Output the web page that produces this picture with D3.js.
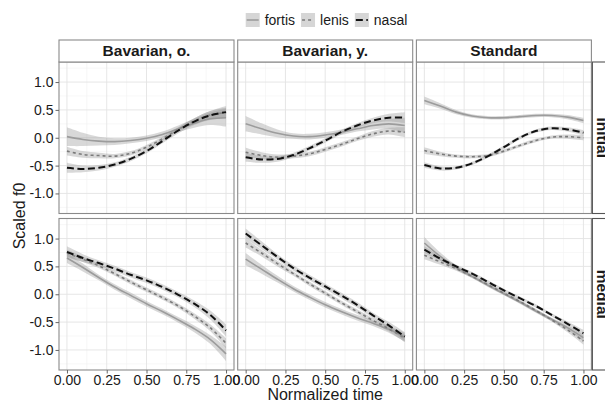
<!DOCTYPE html>
<html>
<head>
<meta charset="utf-8">
<script src="https://cdn.jsdelivr.net/npm/d3@7"></script>
<style>
  body { margin: 0; background: #fff; }
  text { font-family: "Liberation Sans", Arial, sans-serif; }
</style>
</head>
<body>
<script>
// facets and groups
var dialects = ['Bavarian, o.', 'Bavarian, y.', 'Standard'];
var positions = ['initial', 'medial'];
var groups = ['fortis', 'lenis', 'nasal'];

var timePoints = [0, 0.1, 0.2, 0.3, 0.4, 0.5, 0.6, 0.7, 0.8, 0.9, 1];
var xTicks = [0, 0.25, 0.5, 0.75, 1];
var xTickLabels = ['0.00', '0.25', '0.50', '0.75', '1.00'];
var yTicks = [-1, -0.5, 0, 0.5, 1];
var yTickLabels = ['-1.0', '-0.5', '0.0', '0.5', '1.0'];

// smoothed f0
var bavOInitialFortis = [0.02, -0.03, -0.06, -0.07, -0.05, -0.01, 0.06, 0.16, 0.26, 0.34, 0.36];
var bavOInitialLenis  = [-0.24, -0.30, -0.32, -0.33, -0.28, -0.17, -0.02, 0.15, 0.30, 0.41, 0.45];
var bavOInitialNasal  = [-0.54, -0.56, -0.54, -0.48, -0.38, -0.24, -0.06, 0.13, 0.29, 0.40, 0.46];

var bavYInitialFortis = [0.25, 0.16, 0.08, 0.03, 0.02, 0.05, 0.10, 0.16, 0.22, 0.25, 0.22];
var bavYInitialLenis  = [-0.26, -0.32, -0.35, -0.33, -0.29, -0.21, -0.12, -0.02, 0.07, 0.12, 0.10];
var bavYInitialNasal  = [-0.35, -0.39, -0.38, -0.31, -0.19, -0.05, 0.10, 0.22, 0.31, 0.36, 0.36];

var stdInitialFortis = [0.67, 0.57, 0.46, 0.39, 0.36, 0.36, 0.38, 0.40, 0.40, 0.37, 0.31];
var stdInitialLenis  = [-0.23, -0.29, -0.33, -0.34, -0.32, -0.24, -0.14, -0.05, 0.01, 0.02, 0.00];
var stdInitialNasal  = [-0.49, -0.55, -0.54, -0.46, -0.33, -0.17, 0.00, 0.12, 0.17, 0.15, 0.09];

var bavOMedialFortis = [0.65, 0.48, 0.30, 0.13, -0.02, -0.17, -0.31, -0.46, -0.62, -0.81, -1.07];
var bavOMedialLenis  = [0.74, 0.63, 0.51, 0.37, 0.22, 0.08, -0.06, -0.21, -0.39, -0.60, -0.88];
var bavOMedialNasal  = [0.76, 0.65, 0.56, 0.46, 0.35, 0.25, 0.13, -0.01, -0.17, -0.37, -0.65];

var bavYMedialFortis = [0.63, 0.45, 0.27, 0.10, -0.05, -0.19, -0.31, -0.42, -0.52, -0.63, -0.77];
var bavYMedialLenis  = [0.92, 0.74, 0.55, 0.37, 0.19, 0.02, -0.15, -0.31, -0.47, -0.62, -0.79];
var bavYMedialNasal  = [1.09, 0.88, 0.67, 0.47, 0.30, 0.14, -0.02, -0.19, -0.38, -0.56, -0.76];

var stdMedialFortis = [0.92, 0.68, 0.48, 0.32, 0.16, 0.01, -0.14, -0.30, -0.45, -0.60, -0.78];
var stdMedialLenis  = [0.70, 0.58, 0.46, 0.32, 0.17, 0.02, -0.13, -0.29, -0.46, -0.64, -0.84];
var stdMedialNasal  = [0.80, 0.64, 0.50, 0.37, 0.22, 0.07, -0.07, -0.21, -0.37, -0.53, -0.70];

// half width of the confidence bands
var bavOInitialFortisSe = [0.17, 0.12, 0.08, 0.06, 0.05, 0.05, 0.05, 0.06, 0.08, 0.11, 0.16];
var bavOInitialLenisSe  = [0.08, 0.06, 0.05, 0.04, 0.04, 0.04, 0.04, 0.04, 0.05, 0.07, 0.09];
var bavOInitialNasalSe  = [0.09, 0.06, 0.05, 0.04, 0.04, 0.04, 0.04, 0.05, 0.06, 0.08, 0.11];

var bavYInitialFortisSe = [0.14, 0.10, 0.07, 0.05, 0.05, 0.05, 0.05, 0.05, 0.07, 0.09, 0.14];
var bavYInitialLenisSe  = [0.08, 0.06, 0.05, 0.04, 0.04, 0.04, 0.04, 0.04, 0.05, 0.06, 0.09];
var bavYInitialNasalSe  = [0.08, 0.06, 0.05, 0.04, 0.04, 0.04, 0.04, 0.04, 0.05, 0.07, 0.10];

var stdInitialFortisSe = [0.07, 0.05, 0.04, 0.03, 0.03, 0.03, 0.03, 0.03, 0.03, 0.04, 0.05];
var stdInitialLenisSe  = [0.06, 0.04, 0.03, 0.03, 0.03, 0.03, 0.03, 0.03, 0.03, 0.04, 0.05];
var stdInitialNasalSe  = [0.05, 0.04, 0.03, 0.03, 0.03, 0.03, 0.03, 0.03, 0.03, 0.04, 0.05];

var bavOMedialFortisSe = [0.09, 0.07, 0.05, 0.05, 0.05, 0.05, 0.05, 0.05, 0.06, 0.08, 0.13];
var bavOMedialLenisSe  = [0.06, 0.05, 0.04, 0.04, 0.04, 0.04, 0.04, 0.04, 0.05, 0.06, 0.09];
var bavOMedialNasalSe  = [0.10, 0.07, 0.05, 0.05, 0.05, 0.05, 0.05, 0.05, 0.06, 0.08, 0.11];

var bavYMedialFortisSe = [0.11, 0.08, 0.06, 0.05, 0.05, 0.05, 0.05, 0.05, 0.05, 0.06, 0.08];
var bavYMedialLenisSe  = [0.08, 0.06, 0.05, 0.04, 0.04, 0.04, 0.04, 0.04, 0.04, 0.05, 0.07];
var bavYMedialNasalSe  = [0.09, 0.07, 0.05, 0.05, 0.05, 0.05, 0.05, 0.05, 0.05, 0.06, 0.08];

var stdMedialFortisSe = [0.11, 0.07, 0.04, 0.03, 0.03, 0.03, 0.03, 0.03, 0.03, 0.04, 0.06];
var stdMedialLenisSe  = [0.07, 0.05, 0.04, 0.03, 0.03, 0.03, 0.03, 0.03, 0.03, 0.04, 0.06];
var stdMedialNasalSe  = [0.06, 0.04, 0.03, 0.03, 0.03, 0.03, 0.03, 0.03, 0.03, 0.04, 0.06];

// lookup: [position][dialect][group] -> {mean, se}
var curves = {
    initial: [
        [[bavOInitialFortis, bavOInitialFortisSe], [bavOInitialLenis, bavOInitialLenisSe], [bavOInitialNasal, bavOInitialNasalSe]],
        [[bavYInitialFortis, bavYInitialFortisSe], [bavYInitialLenis, bavYInitialLenisSe], [bavYInitialNasal, bavYInitialNasalSe]],
        [[stdInitialFortis, stdInitialFortisSe], [stdInitialLenis, stdInitialLenisSe], [stdInitialNasal, stdInitialNasalSe]]
    ],
    medial: [
        [[bavOMedialFortis, bavOMedialFortisSe], [bavOMedialLenis, bavOMedialLenisSe], [bavOMedialNasal, bavOMedialNasalSe]],
        [[bavYMedialFortis, bavYMedialFortisSe], [bavYMedialLenis, bavYMedialLenisSe], [bavYMedialNasal, bavYMedialNasalSe]],
        [[stdMedialFortis, stdMedialFortisSe], [stdMedialLenis, stdMedialLenisSe], [stdMedialNasal, stdMedialNasalSe]]
    ]
};

var lineStyle = {
    fortis: {color: '#9c9c9c', width: 1.6, dash: null},
    lenis: {color: '#7a7a7a', width: 1.6, dash: '3,3'},
    nasal: {color: '#111111', width: 2, dash: '7,3.5'}
};

var width = 605, height = 403;
var panelLeft = 59, panelTop = 62;
var panelW = 175, panelH = 151.5, gapX = 3.7, gapY = 5;

var svg = d3.select('body').append('svg')
    .attr('width', width)
    .attr('height', height);

var x = d3.scaleLinear().domain([-0.05, 1.05]).range([0, panelW]);
var y = d3.scaleLinear().domain([-1.36, 1.36]).range([panelH, 0]);

var defs = svg.append('defs');
defs.append('clipPath').attr('id', 'panelClip')
    .append('rect').attr('width', panelW).attr('height', panelH);

var area = d3.area()
    .x(function(d) { return x(d.t); })
    .y0(function(d) { return y(d.m - d.se); })
    .y1(function(d) { return y(d.m + d.se); })
    .curve(d3.curveCatmullRom);

var line = d3.line()
    .x(function(d) { return x(d.t); })
    .y(function(d) { return y(d.m); })
    .curve(d3.curveCatmullRom);

positions.forEach(function(pos, row) {
    dialects.forEach(function(dia, col) {
        var px = panelLeft + col * (panelW + gapX);
        var py = panelTop + row * (panelH + gapY);
        var g = svg.append('g').attr('transform', 'translate(' + px + ',' + py + ')');

        // minor grid
        g.selectAll('.minorx')
            .data([0.125, 0.375, 0.625, 0.875])
            .enter().append('line')
            .attr('x1', x).attr('x2', x)
            .attr('y1', 0).attr('y2', panelH)
            .attr('stroke', '#f2f2f2').attr('stroke-width', 0.6);
        g.selectAll('.minory')
            .data([-1.25, -0.75, -0.25, 0.25, 0.75, 1.25])
            .enter().append('line')
            .attr('y1', y).attr('y2', y)
            .attr('x1', 0).attr('x2', panelW)
            .attr('stroke', '#f2f2f2').attr('stroke-width', 0.6);
        // major grid
        g.selectAll('.majorx')
            .data(xTicks)
            .enter().append('line')
            .attr('x1', x).attr('x2', x)
            .attr('y1', 0).attr('y2', panelH)
            .attr('stroke', '#e3e3e3').attr('stroke-width', 0.9);
        g.selectAll('.majory')
            .data(yTicks)
            .enter().append('line')
            .attr('y1', y).attr('y2', y)
            .attr('x1', 0).attr('x2', panelW)
            .attr('stroke', '#e3e3e3').attr('stroke-width', 0.9);

        var plot = g.append('g').attr('clip-path', 'url(#panelClip)');
        groups.forEach(function(grp, k) {
            var c = curves[pos][col][k];
            var pts = timePoints.map(function(t, i) {
                return {t: t, m: c[0][i], se: c[1][i]};
            });
            plot.append('path')
                .attr('d', area(pts))
                .attr('fill', '#999999')
                .attr('fill-opacity', 0.38);
            var st = lineStyle[grp];
            plot.append('path')
                .attr('d', line(pts))
                .attr('fill', 'none')
                .attr('stroke', st.color)
                .attr('stroke-width', st.width)
                .attr('stroke-dasharray', st.dash);
        });

        g.append('rect')
            .attr('width', panelW).attr('height', panelH)
            .attr('fill', 'none')
            .attr('stroke', '#8a8a8a').attr('stroke-width', 1.1);

        // left axis
        if (col === 0) {
            var ya = g.append('g').call(d3.axisLeft(y)
                .tickValues(yTicks)
                .tickFormat(function(d, i) { return yTickLabels[i]; })
                .tickSize(3.5).tickPadding(2));
            ya.select('.domain').remove();
            ya.selectAll('line').attr('stroke', '#666');
            ya.selectAll('text').attr('font-size', 14).attr('fill', '#1a1a1a')
                .attr('font-family', '"Liberation Sans", Arial, sans-serif');
        }
        // bottom axis
        if (row === 1) {
            var xa = g.append('g').attr('transform', 'translate(0,' + panelH + ')')
                .call(d3.axisBottom(x)
                    .tickValues(xTicks)
                    .tickFormat(function(d, i) { return xTickLabels[i]; })
                    .tickSize(3.5).tickPadding(2));
            xa.select('.domain').remove();
            xa.selectAll('line').attr('stroke', '#666');
            xa.selectAll('text').attr('font-size', 14).attr('fill', '#1a1a1a')
                .attr('font-family', '"Liberation Sans", Arial, sans-serif');
        }

        // top strips
        if (row === 0) {
            g.append('rect')
                .attr('x', 0).attr('y', -22)
                .attr('width', panelW).attr('height', 22)
                .attr('fill', '#fff')
                .attr('stroke', '#8a8a8a').attr('stroke-width', 1.1);
            g.append('text')
                .attr('x', panelW / 2).attr('y', -6)
                .attr('text-anchor', 'middle')
                .attr('font-size', 15.5).attr('font-weight', 'bold')
                .attr('fill', '#1a1a1a')
                .text(dia);
        }
        // right strips
        if (col === dialects.length - 1) {
            g.append('rect')
                .attr('x', panelW + 1).attr('y', 0)
                .attr('width', 22).attr('height', panelH)
                .attr('fill', '#fff')
                .attr('stroke', '#555').attr('stroke-width', 1.1);
            g.append('text')
                .attr('transform', 'translate(' + (panelW + 6) + ',' + (panelH / 2) + ') rotate(90)')
                .attr('text-anchor', 'middle')
                .attr('font-size', 15.5).attr('font-weight', 'bold')
                .attr('fill', '#1a1a1a')
                .text(pos);
        }
    });
});

// axis titles
var plotRight = panelLeft + 3 * panelW + 2 * gapX;
svg.append('text')
    .attr('x', (panelLeft + plotRight) / 2).attr('y', 400)
    .attr('text-anchor', 'middle')
    .attr('font-size', 16).attr('fill', '#1a1a1a')
    .text('Normalized time');
svg.append('text')
    .attr('transform', 'translate(25,' + (panelTop + panelH + gapY / 2) + ') rotate(-90)')
    .attr('text-anchor', 'middle')
    .attr('font-size', 16).attr('fill', '#1a1a1a')
    .text('Scaled f0');

// legend
var legend = svg.append('g');
var lx = 0;
groups.forEach(function(grp) {
    var item = legend.append('g').attr('transform', 'translate(' + lx + ',0)');
    item.append('rect')
        .attr('x', 0).attr('y', 13)
        .attr('width', 14).attr('height', 14)
        .attr('fill', '#d6d6d6');
    var st = lineStyle[grp];
    item.append('line')
        .attr('x1', 1).attr('x2', 13)
        .attr('y1', 20).attr('y2', 20)
        .attr('stroke', st.color)
        .attr('stroke-width', st.width)
        .attr('stroke-dasharray', st.dash);
    var t = item.append('text')
        .attr('x', 19).attr('y', 25)
        .attr('font-size', 14).attr('fill', '#1a1a1a')
        .text(grp);
    lx += 19 + t.node().getComputedTextLength() + 6;
});
legend.attr('transform', 'translate(' + (326.5 - (lx - 6) / 2) + ',0)');
</script>
</body>
</html>
